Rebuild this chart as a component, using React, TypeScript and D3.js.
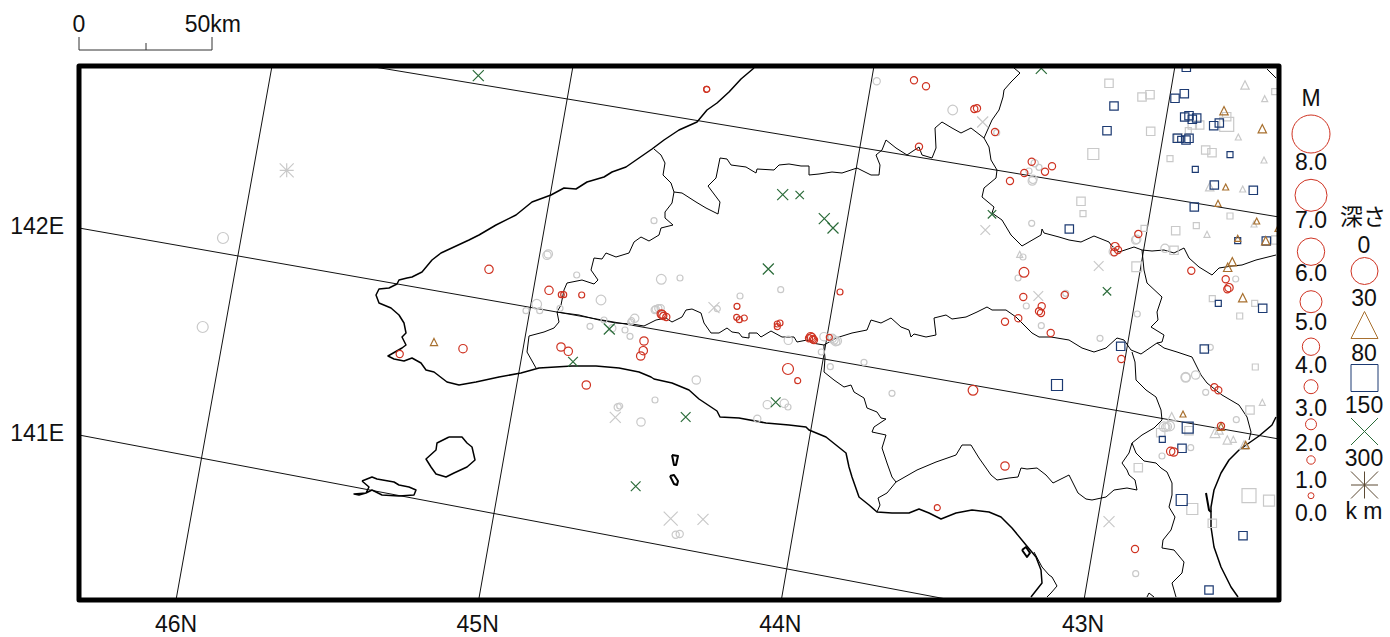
import React from 'react';
import * as d3 from 'd3';

type Pt = [number, number];
type Ev = [number, number, number]; // grid x, grid y, magnitude

// parallels and meridians, crossing the frame edges
const latTicks = [46, 45, 44, 43];
const lonTicks = [141, 142, 143];

// ---- coast lines, grid units
const northCoast: Pt[] = [[755,68],[742,79],[730,92],[718,103],[708,110],[698,122],[680,130],[665,140],[653,149],[640,158],[627,167],[613,172],[605,177],[588,182],[577,189],[565,188],[552,195],[533,202],[517,215],[497,225],[480,235],[470,240],[442,253],[433,260],[423,272],[413,277],[408,278],[400,280],[398,284],[390,288],[380,289],[377,295],[380,303],[392,308],[400,315],[405,323],[407,333],[403,337],[407,345],[403,348],[389,356],[395,359],[405,361],[413,358],[422,363],[427,370],[435,372],[448,382],[460,385],[477,382],[500,377],[522,373],[540,368],[573,366],[597,366],[620,368],[640,372],[652,377],[655,379],[673,383],[690,390],[700,399],[718,411],[721,417],[740,418],[767,423],[790,425],[807,427],[810,430],[827,437],[837,445],[847,453],[850,467],[853,477],[860,497],[870,505],[878,512],[893,513],[910,513],[920,509],[930,513],[942,519],[957,513],[973,510],[990,512],[1002,517],[1013,528],[1027,545],[1037,557],[1042,570],[1043,583],[1032,597]];
const bayCoast: Pt[] = [[1035,552],[1043,567],[1050,575],[1053,577],[1058,586],[1052,593],[1048,597]];
const eastCoast: Pt[] = [[1277,417],[1273,425],[1260,436],[1250,443],[1240,450],[1230,460],[1222,473],[1215,490],[1212,507],[1212,527],[1215,547],[1222,567],[1232,587],[1239,597]];
const spit: Pt[] = [[1207,493],[1210,510],[1212,512]];
const harbour: Pt[] = [[1023,550],[1027,547],[1031,553],[1028,557],[1023,550]];
const rishiri: Pt[] = [[450,437],[463,437],[468,443],[473,447],[476,460],[468,467],[455,473],[447,477],[437,474],[432,467],[427,459],[437,450],[438,443],[450,437]];
const rebun: Pt[] = [[363,481],[373,477],[378,479],[395,482],[400,485],[410,487],[417,490],[415,495],[400,496],[383,495],[373,490],[367,493],[360,495],[355,494],[367,493],[370,487],[363,481]];
const teuri: Pt[] = [[673,455],[679,456],[677,465],[675,465],[673,455]];
const yagishiri: Pt[] = [[671,476],[675,475],[679,481],[678,485],[675,484],[671,476]];

// ---- subprefecture boundaries
const borderSoya: Pt[] = [[655,149],[662,155],[666,163],[664,175],[672,183],[675,192],[673,203],[666,212],[666,218],[674,225],[662,228],[660,235],[650,241],[642,237],[635,242],[630,253],[617,257],[607,253],[603,259],[595,258],[592,270],[599,280],[595,284],[583,280],[568,283],[565,290],[562,305],[558,312],[560,322],[555,328],[545,332],[530,336],[528,352],[537,368]];
const borderNorth: Pt[] = [[675,192],[683,193],[697,202],[707,208],[719,214],[721,202],[709,186],[717,178],[721,158],[728,159],[732,165],[747,167],[757,173],[758,169],[775,170],[780,165],[790,164],[802,166],[810,166],[810,175],[820,174],[833,172],[843,173],[852,170],[858,168],[872,175],[880,175],[881,165],[877,155],[883,150],[887,140],[897,148],[908,155],[920,147],[923,155],[933,158],[937,148],[936,128],[943,122],[953,128],[962,133],[972,128],[985,138],[990,147],[992,160],[998,170],[997,178],[985,188],[983,197],[995,207],[993,213],[1003,220],[1012,235],[1023,246],[1042,235],[1043,229],[1045,233],[1060,237],[1070,240],[1082,242],[1095,236],[1110,242],[1112,245],[1120,252],[1135,247],[1143,250],[1153,251],[1165,250],[1175,253],[1185,248],[1190,258],[1200,267],[1213,275],[1220,268],[1233,266],[1243,265],[1257,260],[1277,255]];
const borderTop: Pt[] = [[985,138],[993,120],[1000,110],[1004,97],[1005,90],[1012,82],[1021,73],[1015,68]];
const borderCorner: Pt[] = [[1268,69],[1277,78]];
const borderCentral: Pt[] = [[558,312],[565,313],[580,315],[600,320],[617,323],[633,324],[645,326],[657,320],[667,318],[673,322],[683,317],[687,310],[693,309],[702,313],[705,323],[712,333],[720,333],[728,328],[733,332],[740,333],[743,337],[750,338],[750,333],[758,333],[762,337],[772,331],[783,337],[795,337],[798,342],[808,340],[813,343],[825,345],[837,338],[853,333],[868,330],[872,320],[882,323],[892,318],[902,327],[910,330],[912,337],[915,334],[927,337],[937,335],[935,318],[947,315],[953,319],[967,317],[978,312],[988,307],[993,310],[1007,310],[1017,317],[1023,323],[1033,333],[1040,337],[1052,337],[1070,340],[1083,348],[1095,352],[1107,348],[1118,338],[1125,340],[1132,350],[1142,354],[1155,345],[1158,343],[1165,348],[1178,352],[1193,357],[1202,375],[1208,383],[1223,395],[1240,405],[1248,417],[1252,432],[1250,440]];
const borderEast: Pt[] = [[1143,250],[1145,270],[1148,283],[1163,297],[1158,312],[1159,320],[1152,327],[1165,335],[1163,342],[1158,343]];
const borderSouth: Pt[] = [[1133,352],[1136,362],[1137,380],[1147,390],[1157,397],[1162,410],[1163,420],[1155,428],[1143,435],[1133,443],[1130,453],[1123,463],[1128,470],[1130,475],[1136,480],[1138,490],[1128,488],[1115,490],[1107,497],[1093,500],[1087,499],[1079,493],[1070,475],[1054,483],[1047,475],[1038,468],[1028,469],[1022,468],[1019,477],[1010,478],[998,480],[992,475],[980,458],[972,445],[963,445],[957,455],[937,462],[918,470],[897,482],[888,493],[879,498],[881,505],[878,512]];
const borderInner: Pt[] = [[1133,443],[1137,453],[1145,461],[1157,463],[1162,468],[1168,472],[1173,483],[1173,495],[1170,507],[1176,517],[1172,530],[1164,540],[1163,548],[1175,550],[1185,562],[1183,573],[1173,583],[1177,597]];
const borderMid: Pt[] = [[825,345],[825,348],[826,358],[825,372],[835,380],[845,387],[852,385],[855,392],[865,398],[868,408],[878,412],[882,418],[887,419],[875,427],[873,432],[887,435],[883,448],[888,463],[893,477],[897,482]];
const borderBottom: Pt[] = [[1148,597],[1150,593],[1155,597]];

// ---- events, recent ones in colour and older ones grey
const redCircles: Ev[] = [[707.7,89.3,0],[707.7,89.3,0],[490,269.3,1],[550,290.3,1],[562.3,294.7,0],[564.7,294.7,0],[582.7,295,0],[663.3,314.7,1],[664.3,316,0.5],[662.3,314,1],[667.3,317,0.5],[738,306.3,0],[737.7,317.3,0],[740.3,319.7,0],[745.3,318,0],[778.3,324,0],[781,323,0],[778.3,326.7,0],[841,292,0],[812.7,337.7,1],[811.7,336.7,1],[814,339.3,0.5],[810,338.3,0.5],[815,340,0.5],[830.3,337.3,0],[645,341,1],[644.3,350.7,1],[641.7,356,1],[562,347,1],[569.3,351.3,1],[587.3,385,1],[789,369,2],[798.7,380.7,0],[400.7,354,0.5],[464,348.7,1],[1025,272.3,1.5],[1024.3,297,0.5],[1042.7,306.3,0.5],[1040,311.3,0.5],[1042,313,0.5],[1065.7,295,0.5],[1019.3,318.3,0.5],[1006,321.7,0.5],[1051.7,333,0.5],[974,390.3,1.5],[1122.3,359,0.5],[1116,246.7,1],[1119,250,0.5],[1115.3,252.3,0.5],[1139.3,234,0.5],[915,80.3,0.5],[927,86.3,0.5],[975.3,109,0.5],[978,108.3,0.5],[996,132,0.5],[920,146.7,0.5],[1032.7,161.7,0.5],[1053,166.3,0.5],[1046,171.7,0.5],[1025.3,173,0.5],[1011,181,0.5],[1192.3,270.7,0.5],[1226.7,279.3,0.5],[1230,287.7,1],[1228.3,289.3,0.5],[1006,466,1],[938.3,507.7,0],[1215.3,387.3,0.5],[1219.3,390.3,0.5],[1222,426,0.5],[1171.7,451.3,1],[1174.7,452,1],[1136,549,0.5]];
const greyCircles: Ev[] = [[224,238,2],[203.7,327,2],[655,220.7,0],[549.3,254,1],[548,255.3,1],[577.7,275,0],[662.3,279.3,1.5],[681,278,0],[781.7,289.7,0],[741,296,0],[602,300,1.5],[537.7,304.3,1.5],[527,310.7,0],[540.7,310.7,0],[561,308.3,0],[656.7,309.3,0.5],[659.3,308.3,0.5],[661.7,308.3,0.5],[655.7,310,0.5],[635.7,318.3,1],[632.7,320.7,0],[631.7,322,0],[605,320,0],[591,326.3,0],[613.3,328.3,0.5],[626,330,0],[631,336.3,0],[718.3,308.7,0],[789.3,340.3,1],[697.3,380,1],[656,400,0],[831.3,366.7,0],[822.3,352,0],[825,336.7,1],[835,340,1],[838.3,341,1],[833.3,338.3,1],[836.7,341.7,1],[618.7,407.3,0.5],[620.7,406,0],[642,422,1],[768.3,404.7,1],[785.3,403.3,1],[789,407,0],[758.3,418.7,0.5],[676.7,534.7,0.5],[680.7,534,0.5],[877.7,81.3,0.5],[953.7,110,1.5],[997.7,132.7,0],[1035.7,163.3,0.5],[1040,167.3,0],[1030,171,0],[1033.3,181,1],[1034,179.3,1],[1032.7,223.3,0],[1024,257,0],[1019,278,0],[1066.7,293.3,0],[1027.3,306,0],[1042.3,325.7,0],[1101,338.3,0],[1138.3,314,0],[1166,248.3,1],[1114.3,251.7,1],[1137.7,239.3,1],[1136.7,240,1],[1236.7,279,0],[865,362.3,0],[893,393.3,0],[1211.3,347.3,0],[1186.7,377.3,1.5],[1186.7,377.3,1],[1196.7,375,1],[1206.7,392.3,0],[1237.3,419.7,0],[1168.3,426.7,1],[1170.7,426,1.5],[1166.7,427.3,1],[1165,426.7,1.5],[1191.7,447.7,0],[1163,456,0],[1136.7,573.7,0]];
const blueSquares: Ev[] = [[1187.3,67.3,1],[1176,98.3,1],[1185.3,93.7,1],[1115,106,1],[1108,130.7,1],[1185.7,117,1],[1190,115.7,1],[1193.3,119.3,1],[1197.7,118,1],[1214.7,125.7,1],[1220.3,123,1],[1178.3,138.3,1],[1181.7,139.3,0],[1187,140,1],[1190,138.3,1],[1231,154.7,0],[1196.3,169.3,0],[1215.3,185,1],[1254.3,190.3,1],[1195.3,207,1],[1070.3,229,1],[1238.7,240.7,0],[1267.3,241,1],[1219.3,303.3,0],[1263.7,308.3,1],[1121.7,346.3,1],[1058,385,2],[1205.3,349,1],[1188.7,427.7,2],[1163.3,439.3,0],[1183,448.3,1],[1182.7,500,2],[1244,535.7,1],[1210,590,1]];
const greySquares: Ev[] = [[1110,83.3,1],[1143,97,1],[1151,94.7,1],[1151.7,131.3,1],[1094.3,154,2],[1227.7,124.3,3],[1227.7,116.7,1],[1200.7,125,1],[1193.3,125,1],[1189.3,130.7,0],[1179.3,137.7,1],[1171,158.7,0],[1206.7,150,1],[1213,152.7,1],[1082,201.3,1],[1084,213.7,0],[1231,216,0],[1197.3,225.7,0],[1176.7,230.7,1],[1145,228.3,0],[1175,250.3,1],[1137.7,266.7,1.5],[1213.3,298.7,0],[1240.7,316,0],[1255.7,303.3,0],[1276.7,240,1],[1275.7,91.7,0],[1256.3,367,0],[1251,410,1],[1161.7,432.7,1],[1190,430.7,1],[1139.3,467.7,1],[1250,495.7,3],[1270,500.7,2],[1193.3,509,2],[1213.3,523.3,1]];
const brownTriangles: Ev[] = [[1225,110.7,1],[1263.3,128.7,1],[1226.7,187,0],[1219,203.3,0],[1257.7,221,0],[1279,228.3,0],[1238.7,238.3,0],[1266.7,240.7,1],[1233.3,261.7,1],[1228.7,267.3,1],[1243.7,297.7,1],[435,342,0.5],[1184,414,0],[1222,426.7,0.5],[1246.7,445,0.5]];
const greyTriangles: Ev[] = [[1246,85,1],[1265.7,98.7,0],[1239.3,137,0],[1265,160,0],[1210.7,186.7,1],[1243.7,189,0],[1255,224,0],[1208,234.3,0],[1020.7,254.3,0],[1263.3,402.3,0],[1172.7,416.7,1],[1216,432.7,1.5],[1220,430,1],[1228.3,440,1],[1234.3,439.3,0],[1245,445,1]];
const greenCrosses: Ev[] = [[783.7,194.7,2],[800.7,195,1],[825.3,218.7,2],[834,228,2],[769.3,269,2],[479.3,75.7,2],[610.3,329,2],[574,361.7,1.5],[686.7,417,1.5],[636.7,486.3,1.5],[776.7,402.3,1.5],[1042.3,68.3,2],[993,214.3,1],[1108,291.3,1]];
const greyCrosses: Ev[] = [[983.7,122,2],[986.3,230,1.5],[1099.7,266,1.5],[1039.3,296,1.5],[715,307.7,2],[616.3,417.3,2],[671.7,518.7,3],[704,519.3,2],[1110,521.7,2]];
const greyStars: Ev[] = [[287.7,170.3,3]];

// ---- legend
const magLabels = ['8.0', '7.0', '6.0', '5.0', '4.0', '3.0', '2.0', '1.0', '0.0'];
const magValues = [8, 7, 6, 5, 4, 3, 2, 1, 0];
const depthLabels = ['0', '30', '80', '150', '300'];
const depthKinds = ['circle', 'triangle', 'square', 'cross', 'star'];

const FRAME = { left: 79, right: 1279, top: 66, bottom: 600 };
const RED = '#cf3322';
const BROWN = '#a8702f';
const NAVY = '#1c3a72';
const GREEN = '#2a6b39';
const STAR = '#5c4a34';
const GREY = '#c9c9c9';
const FONT = '"Liberation Sans", "Noto Sans CJK JP", sans-serif';

const x = d3.scaleLinear().domain([80, 1280]).range([FRAME.left, FRAME.right]);
const y = d3.scaleLinear().domain([66, 600]).range([FRAME.top, FRAME.bottom]);
// symbol radius from magnitude
const radius = d3.scaleLinear().domain([0, 1, 2, 3, 4, 5, 6, 7, 8]).range([3, 4.2, 5.5, 7, 8.7, 11, 13.7, 16, 19]);

// meridian and parallel positions along the frame edges
const latTop = d3.scaleLinear().domain([46, 43]).range([272, 1175]);
const latBottom = d3.scaleLinear().domain([46, 43]).range([176, 1084]);
const lonLeft = d3.scaleLinear().domain([141, 142, 143]).range([435, 228, 18]);
const lonRight = d3.scaleLinear().domain([141, 142, 143]).range([662, 439, 217]);

const line = d3.line<Pt>().x((d) => x(d[0])).y((d) => y(d[1]));

const coastThick = [northCoast, eastCoast, rishiri, rebun];
const coastHeavy = [spit, harbour, teuri, yagishiri];
const borders = [bayCoast, borderSoya, borderNorth, borderTop, borderCorner, borderCentral, borderEast, borderSouth, borderInner, borderMid, borderBottom];

function symbolPath(kind: string, cx: number, cy: number, r: number) {
  const p = d3.path();
  if (kind === 'circle') {
    p.moveTo(cx + r, cy);
    p.arc(cx, cy, r, 0, Math.PI * 2);
  } else if (kind === 'triangle') {
    p.moveTo(cx, cy - r);
    p.lineTo(cx + r, cy + r);
    p.lineTo(cx - r, cy + r);
    p.closePath();
  } else if (kind === 'square') {
    p.rect(cx - r, cy - r, r * 2, r * 2);
  } else {
    p.moveTo(cx - r, cy - r);
    p.lineTo(cx + r, cy + r);
    p.moveTo(cx - r, cy + r);
    p.lineTo(cx + r, cy - r);
    if (kind === 'star') {
      p.moveTo(cx - r, cy);
      p.lineTo(cx + r, cy);
      p.moveTo(cx, cy - r);
      p.lineTo(cx, cy + r);
    }
  }
  return p.toString();
}

const Events = ({ data, kind, color }: { data: Ev[]; kind: string; color: string }) => (
  <g fill="none" stroke={color} strokeWidth={1.2}>
    {data.map((d, i) => (
      <path key={i} d={symbolPath(kind, x(d[0]), y(d[1]), radius(d[2]))} />
    ))}
  </g>
);

const Label = ({ px, py, children, anchor = 'middle' }: any) => (
  <text x={px} y={py} textAnchor={anchor} fontFamily={FONT} fontSize={23} fill="#111">
    {children}
  </text>
);

export default function App() {
  const magY = [134, 195.3, 251.7, 301.7, 346.7, 386.7, 424.3, 460, 495.7];
  const magLabelY = [170, 228, 281, 330, 373, 416, 451, 488, 521];
  const depthY = [271, 325, 378, 431.5, 485];
  const depthLabelY = [253, 306, 361, 413, 466];
  const depthColors = [RED, BROWN, NAVY, GREEN, STAR];

  return (
    <svg width={1390} height={637} style={{ position: 'absolute', left: 0, top: 0 }}>
      <defs>
        <clipPath id="frame">
          <rect x={FRAME.left} y={FRAME.top} width={FRAME.right - FRAME.left} height={FRAME.bottom - FRAME.top} />
        </clipPath>
      </defs>

      <g clipPath="url(#frame)">
        <g stroke="#111" strokeWidth={1} fill="none">
          {latTicks.map((d) => (
            <line key={d} x1={latTop(d)} y1={FRAME.top} x2={latBottom(d)} y2={FRAME.bottom} />
          ))}
          {lonTicks.map((d) => (
            <line key={d} x1={FRAME.left} y1={lonLeft(d)} x2={FRAME.right} y2={lonRight(d)} />
          ))}
        </g>
        <g fill="none" stroke="#000" strokeLinejoin="round">
          {borders.map((d, i) => <path key={i} d={line(d)!} strokeWidth={1} />)}
          {coastThick.map((d, i) => <path key={i} d={line(d)!} strokeWidth={1.5} />)}
          {coastHeavy.map((d, i) => <path key={i} d={line(d)!} strokeWidth={2} />)}
        </g>
        <Events data={greyCircles} kind="circle" color={GREY} />
        <Events data={greySquares} kind="square" color={GREY} />
        <Events data={greyTriangles} kind="triangle" color={GREY} />
        <Events data={greyCrosses} kind="cross" color={GREY} />
        <Events data={greyStars} kind="star" color={GREY} />
        <Events data={blueSquares} kind="square" color={NAVY} />
        <Events data={brownTriangles} kind="triangle" color={BROWN} />
        <Events data={greenCrosses} kind="cross" color={GREEN} />
        <Events data={redCircles} kind="circle" color={RED} />
      </g>

      <rect x={FRAME.left} y={FRAME.top} width={FRAME.right - FRAME.left} height={FRAME.bottom - FRAME.top}
        fill="none" stroke="#000" strokeWidth={5} strokeLinejoin="round" />

      {/* scale bar */}
      <path d="M79,37V50H212V37M146,50V43" fill="none" stroke="#333" strokeWidth={1} />
      <Label px={79} py={32}>0</Label>
      <Label px={241} py={32} anchor="end">50km</Label>

      {/* axis labels */}
      {latTicks.map((d) => (
        <Label key={d} px={latBottom(d) + (d === 46 ? 0 : -1)} py={632}>{d}N</Label>
      ))}
      {lonTicks.slice(0, 2).map((d) => (
        <Label key={d} px={64} py={lonLeft(d) + 6} anchor="end">{d}E</Label>
      ))}

      {/* magnitude legend */}
      <Label px={1311} py={106}>M</Label>
      {magValues.map((m, i) => (
        <g key={m}>
          <circle cx={1311} cy={magY[i]} r={radius(m)} fill="none" stroke={RED} strokeWidth={1} />
          <Label px={1311} py={magLabelY[i]}>{magLabels[i]}</Label>
        </g>
      ))}

      {/* depth legend */}
      <Label px={1363} py={225}>深さ</Label>
      {depthKinds.map((k, i) => (
        <g key={k}>
          <Label px={1364} py={depthLabelY[i]}>{depthLabels[i]}</Label>
          <path d={symbolPath(k, 1364.5, depthY[i], 13.5)} fill="none" stroke={depthColors[i]} strokeWidth={1} />
        </g>
      ))}
      <Label px={1364} py={519}>k m</Label>
    </svg>
  );
}
